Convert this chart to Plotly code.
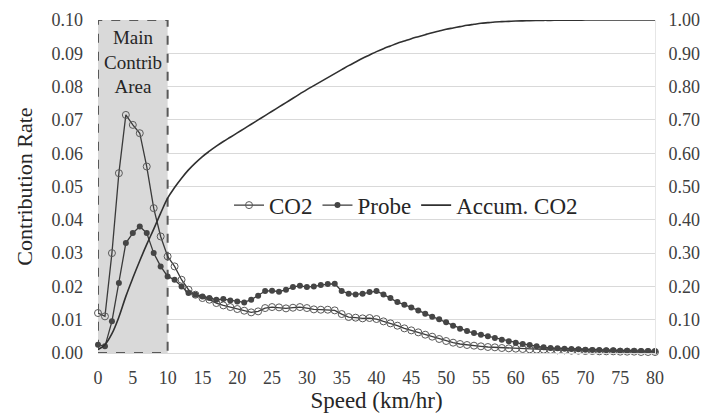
import plotly.graph_objects as go

speed = list(range(0, 81))

co2 = [0.012, 0.011, 0.030, 0.054, 0.0715, 0.0685, 0.066, 0.056, 0.0435, 0.035,
       0.029, 0.026, 0.022, 0.019, 0.0175, 0.0165, 0.016, 0.015, 0.0143, 0.0138,
       0.0132, 0.0127, 0.0122, 0.0125, 0.0135, 0.0138, 0.0137, 0.0134, 0.0136, 0.0138,
       0.0135, 0.0131, 0.0130, 0.0130, 0.0128, 0.0117, 0.0108, 0.0106, 0.0104, 0.0105,
       0.0102, 0.0095, 0.0089, 0.0082, 0.0074, 0.0068, 0.0062, 0.0055, 0.0049, 0.0042,
       0.0036, 0.0031, 0.0027, 0.0024, 0.0022, 0.0020, 0.0018, 0.0017, 0.0015, 0.0014,
       0.0013, 0.0012, 0.0011, 0.0010, 0.0010, 0.0009, 0.0008, 0.0008, 0.0007, 0.0007,
       0.0006, 0.0006, 0.0005, 0.0005, 0.0005, 0.0004, 0.0004, 0.0004, 0.0003, 0.0003,
       0.0003]

probe = [0.0025, 0.002, 0.0095, 0.021, 0.033, 0.036, 0.038, 0.036, 0.030, 0.026,
         0.023, 0.022, 0.020, 0.018, 0.0175, 0.017, 0.0165, 0.016, 0.0162, 0.0158,
         0.0155, 0.0152, 0.0160, 0.0172, 0.0186, 0.0187, 0.0184, 0.0190, 0.0198, 0.0202,
         0.0198, 0.0200, 0.0204, 0.0207, 0.0208, 0.0186, 0.0178, 0.0176, 0.0178, 0.0183,
         0.0186, 0.0176, 0.0165, 0.0153, 0.0145, 0.0137, 0.0128, 0.0118, 0.0109, 0.0101,
         0.0092, 0.0082, 0.0073, 0.0066, 0.0060, 0.0055, 0.0050, 0.0045, 0.0040, 0.0035,
         0.0031, 0.0027, 0.0024, 0.0020, 0.0017, 0.0015, 0.0014, 0.0013, 0.0012, 0.0011,
         0.0010, 0.0009, 0.0009, 0.0008, 0.0008, 0.0007, 0.0007, 0.0006, 0.0006, 0.0006,
         0.0005]

accum = [0.010, 0.025, 0.058, 0.108, 0.170, 0.225, 0.277, 0.326, 0.372, 0.420,
         0.465, 0.497, 0.525, 0.550, 0.571, 0.590, 0.606, 0.621, 0.635, 0.648,
         0.661, 0.674, 0.687, 0.700, 0.713, 0.726, 0.739, 0.752, 0.765, 0.778,
         0.791, 0.803, 0.815, 0.827, 0.839, 0.851, 0.863, 0.874, 0.885, 0.895,
         0.905, 0.914, 0.922, 0.930, 0.937, 0.944, 0.950, 0.956, 0.962, 0.967,
         0.972, 0.976, 0.980, 0.984, 0.987, 0.990, 0.992, 0.994, 0.995, 0.996,
         0.997, 0.9975, 0.998, 0.9985, 0.999, 0.999, 0.9993, 0.9995, 0.9996, 0.9997,
         0.9998, 0.9998, 0.9999, 0.9999, 0.9999, 1.0, 1.0, 1.0, 1.0, 1.0,
         1.0]

left_ticks = [i / 100 for i in range(0, 11)]
right_ticks = [i / 10 for i in range(0, 11)]
x_ticks = list(range(0, 81, 5))

FONT = "Liberation Serif"
DARK = "#3a3a3a"

fig = go.Figure()

fig.add_trace(go.Scatter(
    x=speed, y=co2, name="CO2", mode="lines+markers",
    line=dict(color=DARK, width=1.3),
    marker=dict(symbol="circle-open", size=7, color="#595959", line=dict(width=1)),
    cliponaxis=False,
))
fig.add_trace(go.Scatter(
    x=speed, y=probe, name="Probe", mode="lines+markers",
    line=dict(color=DARK, width=1.3),
    marker=dict(symbol="circle", size=6, color="#454545", line=dict(width=0)),
    cliponaxis=False,
))
fig.add_trace(go.Scatter(
    x=speed, y=accum, name="Accum. CO2", mode="lines", yaxis="y2",
    line=dict(color="#303030", width=1.6, shape="spline"),
    cliponaxis=False,
))

fig.add_shape(type="rect", xref="x", yref="y", x0=0, x1=10, y0=0, y1=0.1,
              fillcolor="#d9d9d9", line=dict(color="#595959", width=2, dash="dash"),
              layer="between")
fig.add_annotation(x=5, y=0.0985, xref="x", yref="y", yanchor="top",
                   text="Main<br>Contrib<br>Area", showarrow=False,
                   font=dict(family=FONT, size=19, color="#262626"))

fig.update_layout(
    template="none",
    width=705, height=415,
    margin=dict(l=98, r=50, t=20, b=62),
    paper_bgcolor="white", plot_bgcolor="white",
    showlegend=True,
    legend=dict(orientation="h", x=0.553, xanchor="center", y=0.444, yanchor="middle",
                bgcolor="rgba(0,0,0,0)", font=dict(family=FONT, size=23, color="#262626"),
                itemwidth=30, tracegroupgap=0),
    xaxis=dict(range=[0, 80], tickvals=x_ticks, showgrid=False, zeroline=False,
               showline=True, linecolor="#d9d9d9", linewidth=1, ticks="",
               ticklabelstandoff=8,
               tickfont=dict(family=FONT, size=18, color="#404040"),
               title=dict(text="Speed (km/hr)", standoff=0,
                          font=dict(family=FONT, size=23, color="#262626"))),
    yaxis=dict(range=[0, 0.1], tickvals=left_ticks, tickformat=".2f",
               showgrid=True, gridcolor="#d9d9d9", gridwidth=1, zeroline=False,
               showline=False, ticks="", ticklabelstandoff=14,
               tickfont=dict(family=FONT, size=18, color="#404040"),
               title=dict(text="Contribution Rate", standoff=12,
                          font=dict(family=FONT, size=22, color="#262626"))),
    yaxis2=dict(range=[0, 1], tickvals=right_ticks, tickformat=".2f",
                overlaying="y", side="right", showgrid=False, zeroline=False,
                showline=True, linecolor="#e6e6e6", ticks="", ticklabelstandoff=9,
                tickfont=dict(family=FONT, size=18, color="#404040")),
)

fig.write_html("out.html")
